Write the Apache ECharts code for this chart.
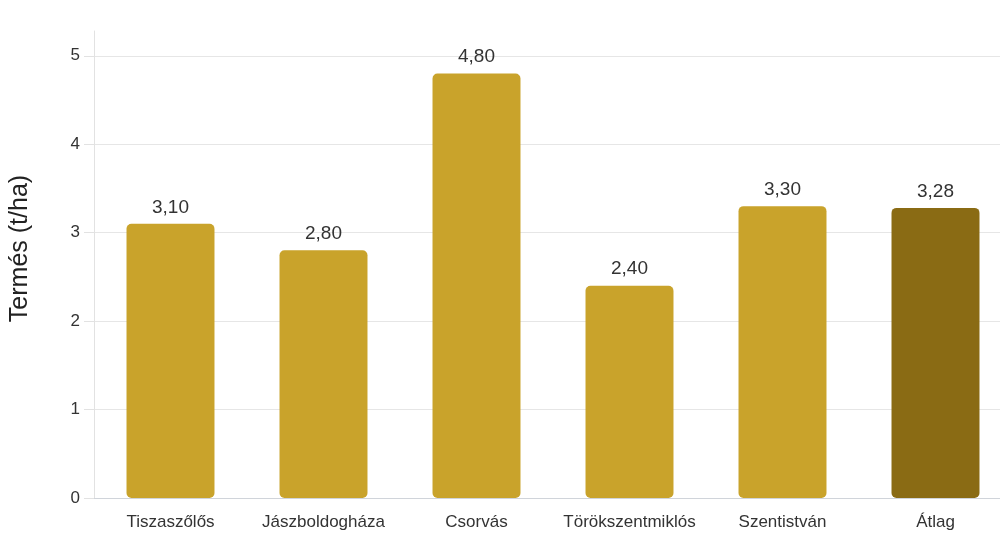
<!DOCTYPE html>
<html>
<head>
    <meta charset="utf-8" />
    <title>Termés</title>
    <script src="https://cdn.jsdelivr.net/npm/echarts@6/dist/echarts.min.js"></script>
    <style>
        html, body { margin: 0; padding: 0; background: #fff; overflow: hidden; }
        #main { width: 1012px; height: 546px; }
    </style>
</head>
<body>
<div id="main"></div>
<script type="text/javascript">
    var categories = ['Tiszaszőlős', 'Jászboldogháza', 'Csorvás', 'Törökszentmiklós', 'Szentistván', 'Átlag'];
    var values = [3.10, 2.80, 4.80, 2.40, 3.30, 3.28];
    var barColors = ['#C9A32B', '#C9A32B', '#C9A32B', '#C9A32B', '#C9A32B', '#8A6B14'];

    var myChart = echarts.init(document.getElementById('main'));

    var option = {
        animation: false,
        textStyle: { fontFamily: 'Liberation Sans, Arial, sans-serif' },
        grid: { left: 89, right: 0, top: 31, bottom: 48, containLabel: false },
        xAxis: {
            type: 'category',
            data: categories,
            axisLine: { lineStyle: { color: '#d0d4da', width: 1 } },
            axisTick: { show: false },
            axisLabel: { color: '#333', fontSize: 17, margin: 16, interval: 0 }
        },
        yAxis: {
            type: 'value',
            min: 0,
            max: 5.28,
            interval: 1,
            name: 'Termés (t/ha)',
            nameLocation: 'middle',
            nameGap: 61,
            nameTextStyle: { color: '#222', fontSize: 25, padding: [0, 0, 0, 32] },
            axisLine: { show: true, lineStyle: { color: '#e2e2e2' } },
            axisTick: { show: true, length: 10, lineStyle: { color: '#e2e2e2' } },
            axisLabel: { color: '#333', fontSize: 17, margin: 14, showMaxLabel: false },
            splitLine: { showMaxLine: false, lineStyle: { color: '#e6e6e6' } }
        },
        series: [
            {
                type: 'bar',
                barWidth: '57.5%',
                data: values.map(function (v, i) {
                    return { value: v, itemStyle: { color: barColors[i] } };
                }),
                itemStyle: { borderRadius: 5 },
                label: {
                    show: true,
                    position: 'top',
                    distance: 7,
                    color: '#333',
                    fontSize: 19,
                    formatter: function (p) { return p.value.toFixed(2).replace('.', ','); }
                }
            }
        ]
    };

    myChart.setOption(option);
</script>
</body>
</html>
